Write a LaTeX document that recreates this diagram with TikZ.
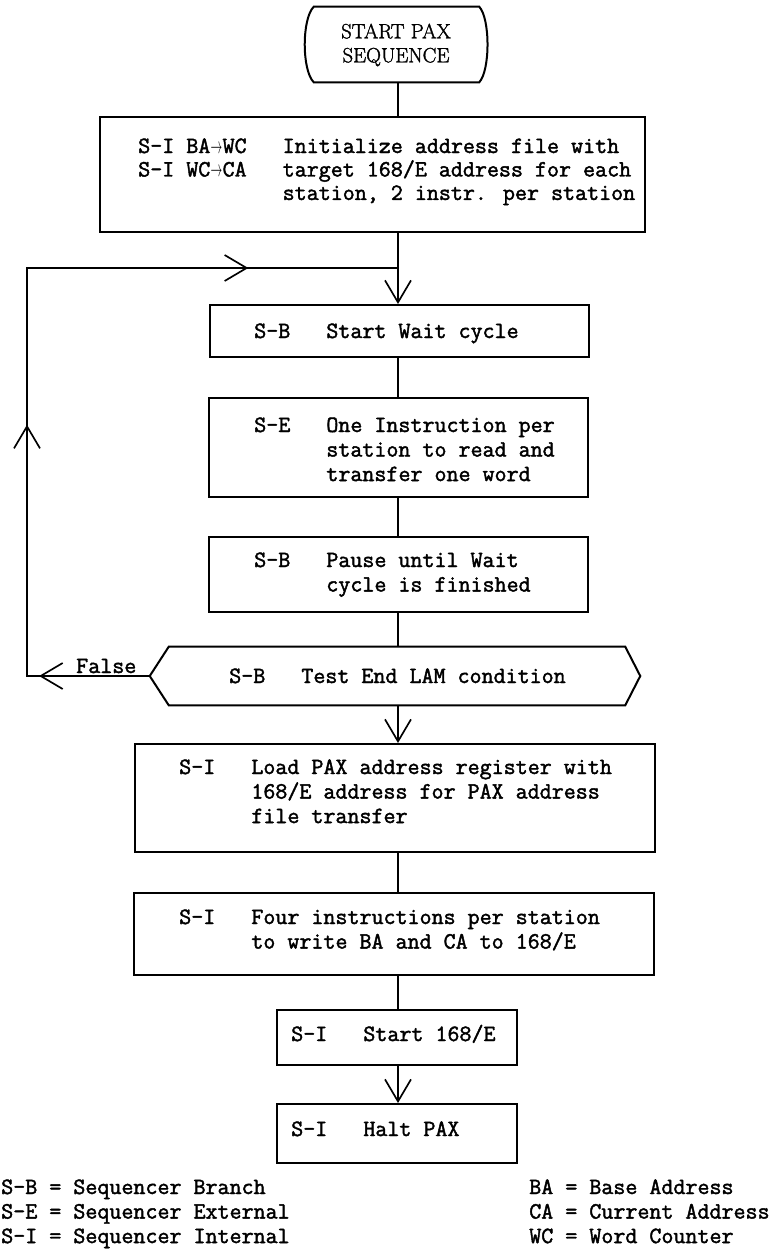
\documentclass[tikz,border=0pt]{standalone}
\usepackage{fontspec}
\setmainfont{Latin Modern Roman}
\newfontfamily\typer{Latin Modern Mono}[FakeBold=1.8]
\newfontfamily\termfont{Latin Modern Roman}[FakeBold=1.5]
\usetikzlibrary{arrows.meta,calc,fit,decorations.markings}

% small arrow that fits one typewriter cell
\newcommand\tarrow{\makebox[0.525em][c]{\resizebox{0.5em}{0.36em}{$\rightarrow$}}}
% left-aligned block of lines whose baseline is the first line
\newcommand\flowlines[1]{\begin{tabular}[t]{@{}l@{}}#1\end{tabular}}

\tikzset{
  vtip/.tip={Straight Barb[length=16.5pt,width=19.5pt]},
  box/.style={draw, line width=1.5pt, inner sep=0pt},
  ghost/.style={draw=none, inner sep=0pt},
  outline/.style={line width=1.5pt},
  flow/.style={line width=1.25pt},
  tw/.style={inner sep=0pt, anchor=base west,
             font=\typer\fontsize{17.5pt}{18.4pt}\selectfont},
  roman/.style={inner sep=0pt, align=center,
             font=\termfont\fontsize{15.5pt}{18pt}\selectfont},
}

\begin{document}
\begin{tikzpicture}[x=0.75pt,y=-0.75pt]
\useasboundingbox (0,0) rectangle (774,1249);

% vertical axis of the main flow and the return loop
\coordinate (axis) at (398,0);
\coordinate (loopx) at (27,0);
\coordinate (join) at (398,268);

% start terminal
\node[ghost, fit={(305,7) (487,82)}] (term) {};
\draw[outline] ($(term.north west)+(9,0)$) -- ($(term.north east)+(-8,0)$)
  .. controls ($(term.north east)+(3,12)$) and ($(term.south east)+(3,-12)$) .. ($(term.south east)+(-8,0)$)
  -- ($(term.south west)+(9,0)$)
  .. controls ($(term.south west)+(-3,-12)$) and ($(term.north west)+(-3,12)$) .. cycle;
\node[roman] (termtxt) at (396,45) {START PAX\\SEQUENCE};

% initialization
\node[box, fit={(100,117) (645,232)}] (b2) {};
\node[tw, font=\typer\fontsize{17.5pt}{17.6pt}\selectfont] (b2t) at (138,153) {\flowlines{%
  S-I BA\tarrow WC~~~Initialize address file with\\
  S-I WC\tarrow CA~~~target 168/E address for each\\
  \hphantom{S-I BA\tarrow WC~~~}station, 2 instr. per station}};

% wait cycle
\node[box, fit={(210,305) (589,357)}] (sw) {};
\node[tw] (swt) at (254,338) {S-B~~~Start Wait cycle};

\node[box, fit={(209,398) (588,497)}] (se) {};
\node[tw] (set) at (254,432) {\flowlines{%
  S-E~~~One Instruction per\\
  \hphantom{S-E~~~}station to read and\\
  \hphantom{S-E~~~}transfer one word}};

\node[box, fit={(209,537) (588,612)}] (pause) {};
\node[tw] (pauset) at (254,567) {\flowlines{%
  S-B~~~Pause until Wait\\
  \hphantom{S-B~~~}cycle is finished}};

% decision
\node[ghost, fit={(150,647) (640,705)}] (hex) {};
\draw[outline] (hex.west) -- ($(hex.north west)+(19,0)$) -- ($(hex.north east)+(-15,0)$)
  -- (hex.east) -- ($(hex.south east)+(-15,0)$) -- ($(hex.south west)+(19,0)$) -- cycle;
\node[tw] (hext) at (229,683) {S-B~~~Test End LAM condition};
\node[tw] (false) at (76,673) {False};

% transfer to the 168/E
\node[box, fit={(135,744) (655,852)}] (load) {};
\node[tw] (loadt) at (179,774) {\flowlines{%
  S-I~~~Load PAX address register with\\
  \hphantom{S-I~~~}168/E address for PAX address\\
  \hphantom{S-I~~~}file transfer}};

\node[box, fit={(134,893) (654,975)}] (four) {};
\node[tw] (fourt) at (179,924) {\flowlines{%
  S-I~~~Four instructions per station\\
  \hphantom{S-I~~~}to write BA and CA to 168/E}};

\node[box, fit={(277,1010) (517,1065)}] (s168) {};
\node[tw] (s168t) at (291,1041) {S-I~~~Start 168/E};

\node[box, fit={(277,1104) (517,1163)}] (halt) {};
\node[tw] (haltt) at (291,1136) {S-I~~~Halt PAX};

% key
\node[tw] (legl) at (1,1194) {\flowlines{%
  S-B = Sequencer Branch\\
  S-E = Sequencer External\\
  S-I = Sequencer Internal}};
\node[tw] (legr) at (529,1194) {\flowlines{%
  BA = Base Address\\
  CA = Current Address\\
  WC = Word Counter}};

% connectors
\draw[flow] (term.south -| axis) -- (b2.north -| axis);
\draw[flow,-vtip] (b2.south -| axis) -- (sw.north -| axis);
\draw[flow] (sw.south -| axis) -- (se.north -| axis);
\draw[flow] (se.south -| axis) -- (pause.north -| axis);
\draw[flow] (pause.south -| axis) -- (hex.north -| axis);
\draw[flow,-vtip] (hex.south -| axis) -- (load.north -| axis);
\draw[flow] (load.south -| axis) -- (four.north -| axis);
\draw[flow] (four.south -| axis) -- (s168.north -| axis);
\draw[flow,-vtip] (s168.south -| axis) -- (halt.north -| axis);

% "False" return loop
\draw[flow, postaction={decorate}, decoration={markings,
    mark=at position 83pt with {\arrow{vtip}},
    mark=at position 280.5pt with {\arrow{vtip}},
    mark=at position 564pt with {\arrow{vtip}}}]
  (hex.west) -- (hex.west -| loopx) |- (join);
\end{tikzpicture}
\end{document}
